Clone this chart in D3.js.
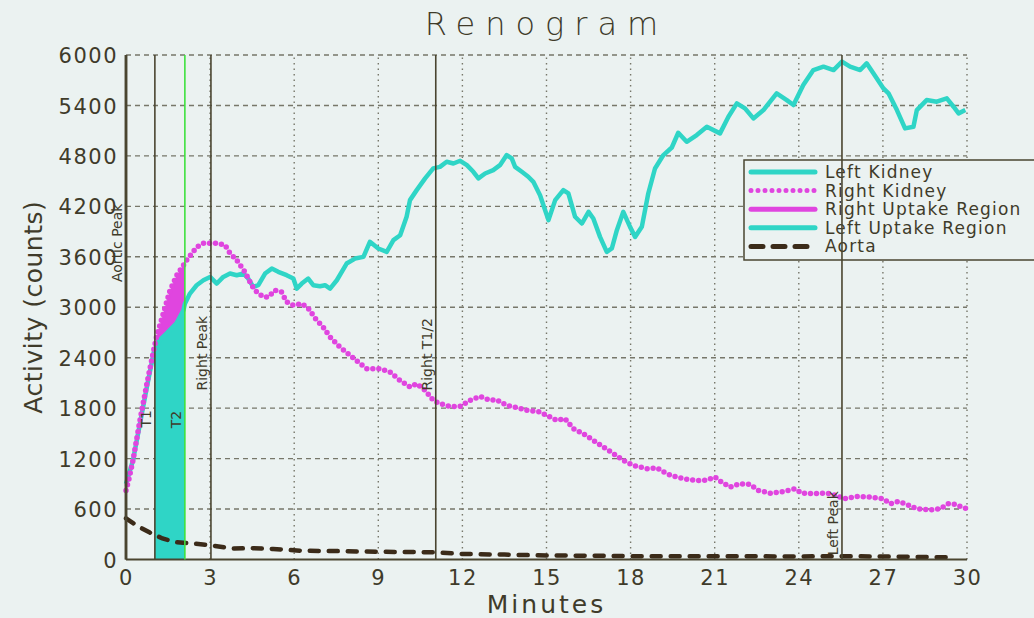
<!DOCTYPE html>
<html>
<head>
<meta charset="utf-8">
<script src="https://cdn.jsdelivr.net/npm/d3@7"></script>
<style>
  html, body { margin: 0; padding: 0; background: #ebf2f1; }
  svg { display: block; }
  text { font-family: "DejaVu Sans", sans-serif; fill: #3f3b2a; }
</style>
</head>
<body>
<svg id="chart" width="1034" height="618"></svg>
<script>
// Renogram: activity counts over 30 minutes for both kidneys and the aorta.
const xTicks = [0, 3, 6, 9, 12, 15, 18, 21, 24, 27, 30];
const yTicks = [0, 600, 1200, 1800, 2400, 3000, 3600, 4200, 4800, 5400, 6000];

// [minutes, counts]
const leftKidney = [[0,900],[0.25,1180],[0.5,1620],[0.75,2060],[1.0,2480],[1.2,2610],[1.45,2690],[1.8,2810],[2.05,2964],[2.1,3040],[2.28,3163],[2.52,3262],[2.76,3321],[3.0,3361],[3.24,3282],[3.47,3361],[3.71,3401],[3.95,3381],[4.19,3401],[4.36,3341],[4.54,3242],[4.72,3262],[4.96,3401],[5.2,3460],[5.43,3421],[5.73,3381],[5.97,3341],[6.09,3222],[6.27,3282],[6.5,3341],[6.68,3262],[6.92,3250],[7.1,3262],[7.28,3222],[7.52,3321],[7.87,3520],[8.17,3579],[8.47,3599],[8.7,3778],[9.0,3699],[9.3,3659],[9.54,3798],[9.78,3857],[10.01,4076],[10.13,4274],[10.37,4393],[10.67,4532],[10.96,4651],[11.2,4670],[11.44,4730],[11.68,4710],[11.92,4742],[12.16,4690],[12.39,4611],[12.57,4532],[12.81,4591],[13.1,4631],[13.34,4690],[13.58,4810],[13.76,4770],[13.88,4670],[14.12,4611],[14.35,4552],[14.53,4492],[14.77,4333],[15.07,4036],[15.31,4274],[15.6,4393],[15.78,4353],[16.02,4076],[16.26,3996],[16.5,4135],[16.67,4056],[16.91,3837],[17.15,3659],[17.33,3699],[17.51,3917],[17.74,4135],[17.98,3956],[18.16,3837],[18.4,3956],[18.63,4353],[18.87,4650],[19.17,4810],[19.47,4900],[19.7,5075],[20.0,4968],[20.36,5048],[20.72,5147],[21.19,5068],[21.49,5266],[21.79,5425],[22.08,5365],[22.38,5246],[22.74,5345],[23.21,5544],[23.57,5464],[23.81,5405],[24.16,5643],[24.52,5821],[24.88,5861],[25.24,5821],[25.54,5921],[25.83,5861],[26.19,5821],[26.42,5901],[26.66,5782],[27.02,5603],[27.2,5544],[27.5,5345],[27.79,5127],[28.09,5147],[28.21,5345],[28.56,5464],[28.92,5445],[29.28,5484],[29.52,5385],[29.7,5306],[29.94,5345]];

const rightKidney = [[0,820],[0.1,950],[0.25,1180],[0.5,1660],[0.75,2100],[1.0,2510],[1.09,2650],[1.33,2925],[1.57,3200],[1.81,3380],[2.05,3500],[2.16,3560],[2.52,3714],[2.76,3760],[3.23,3760],[3.53,3740],[3.71,3643],[3.95,3560],[4.25,3417],[4.48,3262],[4.66,3182],[4.9,3123],[5.08,3123],[5.32,3202],[5.55,3180],[5.73,3063],[5.97,3024],[6.27,3044],[6.5,2988],[6.8,2845],[7.0,2780],[7.28,2646],[7.63,2527],[7.99,2429],[8.35,2329],[8.59,2270],[9.06,2270],[9.42,2230],[9.77,2131],[10.13,2051],[10.37,2091],[10.67,2012],[10.96,1893],[11.2,1853],[11.56,1821],[11.92,1821],[12.27,1893],[12.63,1940],[12.99,1893],[13.22,1900],[13.58,1833],[13.94,1806],[14.3,1774],[14.77,1754],[15.13,1694],[15.37,1655],[15.66,1675],[15.96,1556],[16.31,1496],[16.67,1417],[17.03,1337],[17.39,1258],[17.74,1179],[18.1,1119],[18.58,1080],[18.93,1090],[19.29,1020],[19.64,980],[20.0,955],[20.36,940],[20.72,945],[21.01,980],[21.25,920],[21.55,861],[21.9,901],[22.26,893],[22.56,821],[22.98,789],[23.45,809],[23.87,841],[24.1,789],[24.52,782],[25.0,789],[25.35,762],[25.59,722],[26.07,750],[26.54,742],[27.02,722],[27.26,663],[27.55,690],[27.85,655],[28.21,603],[28.69,591],[29.04,603],[29.34,663],[29.58,655],[29.88,615],[30,603]];

const aorta = [[0,490],[0.4,400],[0.85,320],[1.3,250],[1.8,205],[2.4,190],[3.1,165],[3.8,130],[4.5,135],[5.25,125],[6.2,105],[7.5,100],[9,92],[10.5,88],[11,85],[12,66],[13.5,58],[15,48],[16.5,45],[18,40],[20,40],[22,38],[24,36],[25.5,40],[27,35],[28.5,30],[29.5,25]];

// Event markers: name, time (minutes), and the count level where its label starts
const markerNames = ["Aortic Peak", "T1", "T2", "Right Peak", "Right T1/2", "Left Peak"];
const markerTimes = [0, 1.03, 2.1, 3.03, 11.05, 25.54];
const markerLabelAt = [3300, 1570, 1560, 2010, 2010, 50];

// Uptake window
const uptakeStart = 1.03;
const uptakeEnd = 2.1;

const legendNames = ["Left Kidney", "Right Kidney", "Right Uptake Region", "Left Uptake Region", "Aorta"];

const COL = {
  cyan: "#2fd5c6",
  magenta: "#e045df",
  aorta: "#3b2b19",
  ink: "#4a4530",
  grid: "#77776a",
  green: "#3fe03f",
  bg: "#ebf2f1"
};

const svg = d3.select("#chart");
const W = 1034, H = 618;
const m = { left: 126, right: 67, top: 55, bottom: 58.5 };

const x = d3.scaleLinear().domain([0, 30]).range([m.left, W - m.right]);
const y = d3.scaleLinear().domain([0, 6000]).range([H - m.bottom, m.top]);

// Title
svg.append("text")
  .attr("x", (x(0) + x(30)) / 2).attr("y", 35)
  .attr("text-anchor", "middle")
  .style("font-size", "32px").style("letter-spacing", "10px").style("font-weight", 200)
  .text("Renogram");

// Grid
const grid = svg.append("g");
grid.selectAll("line.h").data(yTicks.filter(d => d > 0)).join("line")
  .attr("x1", x(0)).attr("x2", x(30))
  .attr("y1", d => y(d)).attr("y2", d => y(d))
  .attr("stroke", COL.grid).attr("stroke-width", 1.4).attr("stroke-dasharray", "5,4");
grid.selectAll("line.v").data(xTicks.filter(d => d > 0)).join("line")
  .attr("x1", d => x(d)).attr("x2", d => x(d))
  .attr("y1", y(0)).attr("y2", y(6000))
  .attr("stroke", COL.grid).attr("stroke-width", 1.4).attr("stroke-dasharray", "1.5,4");

// Interpolate a series at time t
function valueAt(series, t) {
  const i = d3.bisector(d => d[0]).right(series, t);
  if (i <= 0) return series[0][1];
  if (i >= series.length) return series[series.length - 1][1];
  const a = series[i - 1], b = series[i];
  return a[1] + (b[1] - a[1]) * (t - a[0]) / (b[0] - a[0]);
}
const windowTimes = Array.from(new Set([uptakeStart,
  ...leftKidney.map(d => d[0]), ...rightKidney.map(d => d[0]), uptakeEnd]
  .filter(t => t >= uptakeStart && t <= uptakeEnd))).sort((a, b) => a - b);
const windowData = windowTimes.map(t => ({ t, l: valueAt(leftKidney, t), r: valueAt(rightKidney, t) }));

// Uptake regions
svg.append("path").datum(windowData)
  .attr("fill", COL.cyan)
  .attr("d", d3.area().x(d => x(d.t)).y0(y(0)).y1(d => y(d.l)));
svg.append("path").datum(windowData)
  .attr("fill", COL.magenta)
  .attr("d", d3.area().x(d => x(d.t)).y0(d => y(d.l)).y1(d => y(d.r)));

const line = d3.line().x(d => x(d[0])).y(d => y(d[1]));

// Aorta
svg.append("path").datum(aorta)
  .attr("fill", "none").attr("stroke", COL.aorta).attr("stroke-width", 4.5)
  .attr("stroke-dasharray", "9,10").attr("stroke-linecap", "round")
  .attr("d", line);

// Left kidney
svg.append("path").datum(leftKidney)
  .attr("fill", "none").attr("stroke", COL.cyan).attr("stroke-width", 4.5)
  .attr("stroke-linejoin", "round")
  .attr("d", line);

// Right kidney (dotted)
svg.append("path").datum(rightKidney)
  .attr("fill", "none").attr("stroke", COL.magenta).attr("stroke-width", 5.5)
  .attr("stroke-dasharray", "0,6").attr("stroke-linecap", "round")
  .attr("d", line);

// Axes
const axisG = svg.append("g");
axisG.append("line").attr("x1", x(0)).attr("x2", x(0)).attr("y1", y(0)).attr("y2", y(6000))
  .attr("stroke", COL.ink).attr("stroke-width", 2.5);
axisG.append("line").attr("x1", x(0)).attr("x2", x(30)).attr("y1", y(0)).attr("y2", y(0))
  .attr("stroke", COL.ink).attr("stroke-width", 2);

const yAxis = d3.axisLeft(y).tickValues(yTicks).tickSize(0).tickPadding(8).tickFormat(d3.format("d"));
const gy = svg.append("g").attr("transform", `translate(${x(0)},0)`).call(yAxis);
gy.select(".domain").remove();
gy.selectAll("text").style("font-size", "21px").style("letter-spacing", "1.5px")
  .style("font-family", "DejaVu Sans").attr("fill", "#3f3b2a").attr("dy", "0.36em");

const xAxis = d3.axisBottom(x).tickValues(xTicks).tickSize(0).tickPadding(11).tickFormat(d3.format("d"));
const gx = svg.append("g").attr("transform", `translate(0,${y(0)})`).call(xAxis);
gx.select(".domain").remove();
gx.selectAll("text").style("font-size", "21px").style("letter-spacing", "1.5px")
  .style("font-family", "DejaVu Sans").attr("fill", "#3f3b2a");

// Axis titles
svg.append("text")
  .attr("x", (x(0) + x(30)) / 2).attr("y", 613)
  .attr("text-anchor", "middle")
  .style("font-size", "25px").style("letter-spacing", "3px")
  .text("Minutes");
svg.append("text")
  .attr("transform", `translate(42,${(y(0) + y(6000)) / 2}) rotate(-90)`)
  .attr("text-anchor", "middle")
  .style("font-size", "25px").style("letter-spacing", "0.5px")
  .text("Activity (counts)");

// Legend
const lg = svg.append("g");
lg.append("rect").attr("x", 744).attr("y", 160).attr("width", 320).attr("height", 100)
  .attr("fill", COL.bg).attr("stroke", COL.ink).attr("stroke-width", 1.5);
const legendStyle = [
  { stroke: COL.cyan, width: 5, dash: null, cap: "round" },
  { stroke: COL.magenta, width: 5, dash: "0,7", cap: "round" },
  { stroke: COL.magenta, width: 5, dash: null, cap: "round" },
  { stroke: COL.cyan, width: 5, dash: null, cap: "round" },
  { stroke: COL.aorta, width: 5, dash: "12,10", cap: "round" }
];
legendNames.forEach((name, i) => {
  const cy = 172 + i * 18.6;
  const s = legendStyle[i];
  lg.append("line").attr("x1", 751).attr("x2", 815).attr("y1", cy).attr("y2", cy)
    .attr("stroke", s.stroke).attr("stroke-width", s.width)
    .attr("stroke-linecap", s.cap).attr("stroke-dasharray", s.dash);
  lg.append("text").attr("x", 825).attr("y", cy).attr("dy", "0.35em")
    .style("font-size", "17px").style("letter-spacing", "1.2px")
    .text(name);
});

// Event markers
const mk = svg.append("g");
markerNames.forEach((name, i) => {
  const t = markerTimes[i];
  mk.append("line").attr("x1", x(t)).attr("x2", x(t)).attr("y1", y(0)).attr("y2", y(6000))
    .attr("stroke", name === "T2" ? COL.green : COL.ink)
    .attr("stroke-width", name === "Aortic Peak" ? 2.5 : 1.6);
  mk.append("text")
    .attr("transform", `translate(${x(t) - 4},${y(markerLabelAt[i])}) rotate(-90)`)
    .style("font-size", "14px")
    .text(name);
});
</script>
</body>
</html>
